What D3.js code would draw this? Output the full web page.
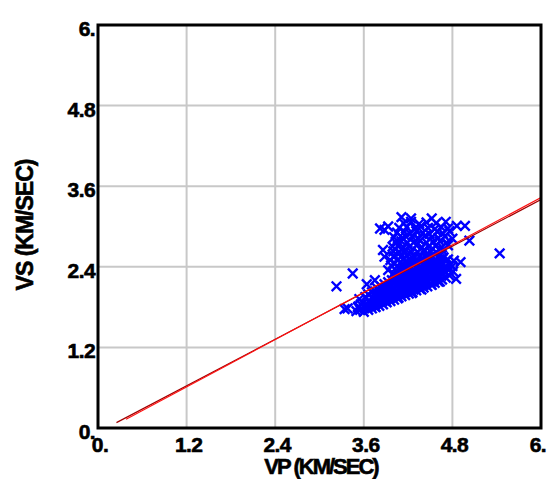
<!DOCTYPE html>
<html>
<head>
<meta charset="utf-8">
<script src="https://cdn.jsdelivr.net/npm/d3@7"></script>
<style>
  body { margin: 0; background: #fff; }
  text { font-family: 'Liberation Sans', Arial, sans-serif; font-weight: bold; fill: #000; stroke: #000; stroke-width: 0.6px; }
</style>
</head>
<body>
<svg id="chart" width="547" height="479"></svg>
<script>
// tick values and the labels printed under them
let ticks = [0, 1.2, 2.4, 3.6, 4.8, 6]
let tickLabels = ['0.', '1.2', '2.4', '3.6', '4.8', '6.']

// VP, VS pairs (km/sec)
let vp = [
  // lower band
  3.50, 3.52, 3.55, 3.56, 3.54, 3.60, 3.61, 3.59, 3.62, 3.66, 3.65, 3.67, 3.66,
  3.71, 3.70, 3.72, 3.71, 3.76, 3.75, 3.77, 3.76, 3.78, 3.81, 3.80, 3.82, 3.81, 3.83,
  3.86, 3.85, 3.87, 3.86, 3.88, 3.91, 3.90, 3.92, 3.91, 3.93, 3.96, 3.95, 3.97, 3.96, 3.98,
  4.01, 4.00, 4.02, 4.01, 4.03, 4.00, 4.06, 4.05, 4.07, 4.06, 4.08, 4.05,
  4.11, 4.10, 4.12, 4.11, 4.13, 4.10, 4.16, 4.15, 4.17, 4.16, 4.18, 4.15,
  4.21, 4.20, 4.22, 4.21, 4.23, 4.20, 4.26, 4.25, 4.27, 4.26, 4.28, 4.25,
  4.31, 4.30, 4.32, 4.31, 4.33, 4.30, 4.36, 4.35, 4.37, 4.36, 4.38, 4.35,
  4.41, 4.40, 4.42, 4.41, 4.43, 4.40, 4.46, 4.45, 4.47, 4.46, 4.48, 4.45,
  4.51, 4.50, 4.52, 4.51, 4.53, 4.50, 4.56, 4.55, 4.57, 4.56, 4.58,
  4.61, 4.60, 4.62, 4.61, 4.63, 4.66, 4.65, 4.67, 4.66, 4.68,
  4.71, 4.70, 4.72, 4.71, 4.76, 4.75, 4.77, 4.74, 4.81, 4.80, 4.82,
  // where band and upper block meet
  4.02, 4.06, 4.10, 4.14, 4.18, 4.22, 4.27, 3.97, 4.05, 4.12, 3.96, 4.00,
  // upper block
  4.02, 4.10, 4.18, 4.27, 4.35, 4.44, 4.53, 4.62,
  4.00, 4.08, 4.15, 4.24, 4.33, 4.41, 4.50, 4.58, 4.67,
  3.99, 4.06, 4.14, 4.22, 4.31, 4.39, 4.48, 4.57, 4.66, 4.74,
  4.03, 4.11, 4.19, 4.28, 4.36, 4.45, 4.54, 4.63, 4.72,
  4.01, 4.12, 4.17, 4.26, 4.34, 4.43, 4.52, 4.61, 4.70, 4.80,
  4.05, 4.15, 4.22, 4.31, 4.40, 4.49, 4.60, 4.67, 4.76,
  4.08, 4.18, 4.30, 4.37, 4.47, 4.56, 4.65, 4.74, 4.86,
  4.14, 4.24, 4.35, 4.45, 4.58, 4.71,
  4.11, 4.24, 4.52,
  // scattered points
  3.23, 3.45, 5.44, 3.34, 3.38, 5.03, 4.91, 4.85, 4.97,
  3.82, 3.88, 3.93, 3.86, 3.88, 3.64, 3.75, 3.93,
  4.63, 4.52, 4.38, 4.25, 4.07, 3.89, 3.75, 3.53
]
let vs = [
  1.74, 1.80, 1.76, 1.84, 1.92, 1.73, 1.79, 1.86, 1.95, 1.76, 1.82, 1.90, 1.99,
  1.78, 1.85, 1.93, 2.02, 1.80, 1.87, 1.95, 2.03, 2.08, 1.82, 1.90, 1.97, 2.05, 2.11,
  1.84, 1.92, 1.99, 2.07, 2.14, 1.87, 1.94, 2.02, 2.10, 2.17, 1.89, 1.97, 2.04, 2.12, 2.20,
  1.91, 1.99, 2.07, 2.15, 2.23, 2.30, 1.93, 2.01, 2.09, 2.17, 2.25, 2.33,
  1.96, 2.04, 2.12, 2.20, 2.28, 2.36, 1.98, 2.06, 2.14, 2.22, 2.30, 2.38,
  2.00, 2.08, 2.16, 2.24, 2.32, 2.41, 2.02, 2.11, 2.19, 2.27, 2.35, 2.44,
  2.05, 2.13, 2.21, 2.29, 2.37, 2.46, 2.07, 2.15, 2.24, 2.32, 2.40, 2.48,
  2.09, 2.18, 2.26, 2.34, 2.42, 2.50, 2.11, 2.20, 2.28, 2.36, 2.45, 2.53,
  2.14, 2.22, 2.30, 2.39, 2.47, 2.55, 2.16, 2.25, 2.33, 2.41, 2.49,
  2.18, 2.27, 2.35, 2.43, 2.51, 2.21, 2.29, 2.37, 2.46, 2.54,
  2.24, 2.32, 2.40, 2.48, 2.27, 2.35, 2.43, 2.51, 2.33, 2.41, 2.49,
  2.45, 2.50, 2.47, 2.52, 2.46, 2.50, 2.52, 2.42, 2.40, 2.44, 2.50, 2.55,
  2.56, 2.55, 2.57, 2.56, 2.55, 2.57, 2.56, 2.55,
  2.63, 2.62, 2.64, 2.63, 2.62, 2.64, 2.63, 2.62, 2.64,
  2.70, 2.71, 2.69, 2.70, 2.72, 2.69, 2.70, 2.71, 2.69, 2.72,
  2.77, 2.78, 2.76, 2.77, 2.79, 2.76, 2.77, 2.78, 2.76,
  2.84, 2.83, 2.85, 2.84, 2.82, 2.86, 2.84, 2.83, 2.85, 2.82,
  2.91, 2.92, 2.90, 2.93, 2.91, 2.89, 2.92, 2.90, 2.93,
  2.98, 2.99, 2.97, 3.00, 2.98, 2.96, 2.99, 2.97, 3.01,
  3.05, 3.07, 3.04, 3.06, 3.05, 3.07,
  3.14, 3.12, 3.12,
  2.11, 2.30, 2.60, 1.77, 1.78, 2.79, 2.47, 2.22, 3.01,
  2.97, 2.95, 3.00, 2.65, 2.55, 2.14, 2.20, 2.35,
  2.18, 2.13, 2.06, 2.01, 1.94, 1.89, 1.81, 1.81
]

// two fitted lines, end points only
let fitA = [[0.25, 0.08], [6, 3.40]]
let fitB = [[0.38, 0.13], [6, 3.43]]

let svg = d3.select('#chart')
let x = d3.scaleLinear().domain([0, 6]).range([98, 541])
let y = d3.scaleLinear().domain([0, 6]).range([428, 25])

// grid
svg.append('g').selectAll('line.gx')
  .data(ticks.slice(1, -1))
  .enter().append('line')
  .attr('x1', d => x(d)).attr('x2', d => x(d))
  .attr('y1', y(0)).attr('y2', y(6))
  .attr('stroke', '#c8c8c8').attr('stroke-width', 2)
svg.append('g').selectAll('line.gy')
  .data(ticks.slice(1, -1))
  .enter().append('line')
  .attr('y1', d => y(d)).attr('y2', d => y(d))
  .attr('x1', x(0)).attr('x2', x(6))
  .attr('stroke', '#c8c8c8').attr('stroke-width', 2)

svg.append('clipPath').attr('id', 'plot')
  .append('rect')
  .attr('x', x(0)).attr('y', y(6))
  .attr('width', x(6) - x(0)).attr('height', y(0) - y(6))

// points as X marks
let pts = vp.map((v, i) => [v, vs[i]])
let s = 4.8
svg.append('g').attr('clip-path', 'url(#plot)')
  .selectAll('path')
  .data(pts)
  .enter().append('path')
  .attr('d', d => {
    let px = x(d[0]), py = y(d[1])
    return 'M' + (px - s) + ',' + (py - s) + 'L' + (px + s) + ',' + (py + s) +
      'M' + (px - s) + ',' + (py + s) + 'L' + (px + s) + ',' + (py - s)
  })
  .attr('stroke', '#0000ff').attr('stroke-width', 2.4).attr('fill', 'none')

// fit lines
let line = d3.line().x(d => x(d[0])).y(d => y(d[1]))
let lines = svg.append('g').attr('clip-path', 'url(#plot)')
lines.append('path').attr('d', line(fitA))
  .attr('stroke', '#a00000').attr('stroke-width', 1.2).attr('fill', 'none')
lines.append('path').attr('d', line(fitB))
  .attr('stroke', '#ff1010').attr('stroke-width', 1.2).attr('fill', 'none')

// frame
svg.append('rect')
  .attr('x', x(0)).attr('y', y(6))
  .attr('width', x(6) - x(0)).attr('height', y(0) - y(6))
  .attr('fill', 'none').attr('stroke', '#000').attr('stroke-width', 3)

// tick labels; the last one is pulled in so it stays on the page
svg.append('g').selectAll('text')
  .data(ticks)
  .enter().append('text')
  .attr('x', (d, i) => i == ticks.length - 1 ? 546 : x(d) + 2)
  .attr('y', 451.5)
  .attr('text-anchor', (d, i) => i == ticks.length - 1 ? 'end' : 'middle')
  .style('font-size', '21px').style('letter-spacing', '-0.6px')
  .text((d, i) => tickLabels[i])
svg.append('g').selectAll('text')
  .data(ticks)
  .enter().append('text')
  .attr('x', 95)
  .attr('y', d => y(d) + 11)
  .attr('text-anchor', 'end')
  .style('font-size', '21px').style('letter-spacing', '-0.6px')
  .text((d, i) => tickLabels[i])

// axis titles
svg.append('text')
  .attr('x', 321).attr('y', 474)
  .attr('text-anchor', 'middle')
  .style('font-size', '22px').style('letter-spacing', '-2px')
  .text('VP (KM/SEC)')
svg.append('text')
  .attr('transform', 'translate(33,225) rotate(-90)')
  .attr('text-anchor', 'middle')
  .style('font-size', '23px').style('letter-spacing', '-1px')
  .text('VS (KM/SEC)')
</script>
</body>
</html>
